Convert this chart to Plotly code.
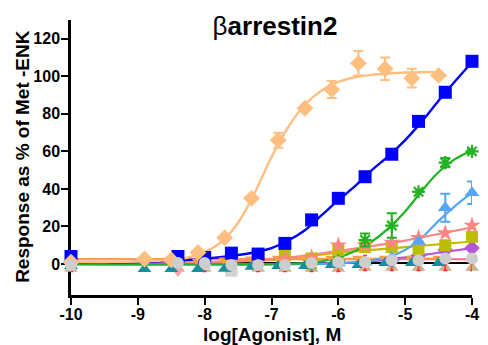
import plotly.graph_objects as go

# ---------------- data ----------------
x_main = [-10, -8.4, -8.0, -7.6, -7.2, -6.8, -6.4, -6.0, -5.6, -5.2, -4.8, -4.4, -4.0]
x_alt = [-10, -8.9, -8.5, -8.1, -7.7, -7.3, -6.9, -6.5, -6.1, -5.7, -5.3, -4.9, -4.5]

# peach diamonds (full agonist)
peach_y = [1, 2.7, 2.2, 6.2, 14, 35, 66, 83, 93, 107, 104, 99, 100.5]
peach_err = [0, 0, 0, 0, 0, 0, 4, 0, 4.5, 6.5, 6, 5, 0]
peach_fit_x = [-10, -9.5, -9, -8.5, -8.25, -8, -7.75, -7.5, -7.25, -7, -6.75, -6.5, -6.25, -6, -5.75, -5.5, -5.25, -5, -4.75, -4.5]
peach_fit_y = [1, 1.1, 1.3, 2.2, 3.5, 6.3, 11.8, 22, 38, 57, 73, 85, 92.5, 97, 99.5, 100.8, 101.5, 102, 102.2, 102.3]

# blue squares
blue_y = [4, 4, 3.5, 5.8, 5.3, 11, 23.5, 35, 46.5, 58.5, 76, 91.5, 108]
blue_fit_x = [-10, -9.5, -9, -8.5, -8, -7.5, -7.25, -7, -6.75, -6.5, -6.25, -6, -5.75, -5.5, -5.25, -5, -4.75, -4.5, -4.25, -4]
blue_fit_y = [0.8, 0.9, 1.1, 1.7, 2.8, 4.8, 6.3, 8.5, 12.5, 18, 26, 34, 41.5, 50, 57.5, 66, 76, 87, 97.5, 107.5]

# green asterisks
green_x = [-6.4, -6.0, -5.6, -5.2, -4.8, -4.4, -4.0]
green_y = [0, 1.5, 12.8, 20.5, 38.5, 54, 60]
green_err = [0, 0, 3.5, 6.5, 0, 2.5, 1]
green_fit_x = [-10, -7, -6.5, -6.25, -6, -5.75, -5.5, -5.25, -5, -4.75, -4.5, -4.25, -4]
green_fit_y = [0, 0, 0.5, 1.5, 3.5, 7, 12, 19, 28, 39, 49, 56, 60.5]

# light blue triangles
lblue_x = [-6.0, -5.6, -5.2, -4.8, -4.4, -4.0]
lblue_y = [0.5, 1, 3.5, 12, 30, 38]
lblue_err = [0, 0, 0, 0, 7.5, 6]
lblue_fit_x = [-10, -6, -5.75, -5.5, -5.25, -5, -4.75, -4.5, -4.25, -4]
lblue_fit_y = [0, 0.3, 1, 2, 3.8, 7.5, 14, 23, 31, 38]

# salmon stars
salmon_x = [-7.2, -6.8, -6.4, -6.0, -5.6, -5.2, -4.8, -4.4, -4.0]
salmon_y = [1.5, 2.5, 3.5, 10, 10, 11.5, 14, 16.5, 20.5]
salmon_fit_x = [-10, -8, -7, -6.5, -6, -5.5, -5, -4.5, -4]
salmon_fit_y = [0.5, 1, 2.5, 4.5, 7, 9.5, 12.5, 16, 19.5]

# olive squares
olive_x = [-6.8, -6.4, -6.0, -5.6, -5.2, -4.8, -4.4, -4.0]
olive_y = [4.5, 3, 7.5, 9, 9, 8, 10, 14.5]
olive_fit_x = [-10, -7, -6.5, -6, -5.5, -5, -4.5, -4]
olive_fit_y = [0.5, 2, 4, 6, 7.5, 9, 10.5, 12]

# purple diamonds
purple_x = [-5.2, -4.8, -4.4, -4.0]
purple_y = [2, 4.5, 7.5, 8.5]
purple_fit_x = [-10, -6, -5.5, -5, -4.5, -4]
purple_fit_y = [0, 0.5, 1.5, 3.5, 6, 8.5]

# near-zero responders
gray_y = [-0.5, 0.5, 0.5, -0.5, -0.5, -0.5, 0.5, 1, 1, 2, 2, 3, 3]
teal_y = [-1, -2.7, -2.7, -2.7, -2.5, -1.5, -1, -1, -0.5, -0.5, 0.5, 0.5, 0.5]
tan_y = [-2.5, -2.5, -2.5, -3, -2.5, -2.5, -2.5, -2.5, -2, -2, -2, -2, -2]
otri_y = [1, 1, 1, 1.5, 2, 2.5, 3, 3, 3, 3, 3, 3, 3]
red_y = [0, 0, 0, 0, 0, 0, 0, 0, 0.5, 0.5, 0.5, 0.5, 0.5]
red_err = [4, 4, 4, 4, 4, 4, 4, 4, 4, 4, 4, 4, 4]
lgsq_x = [-10, -8.0, -7.6]
lgsq_y = [0, 0, -3.5]
lgsq_err = [0, 2, 2.5]
pinktri_x = [-8.4]
pinktri_y = [-4]

flat_x = [-10, -4]
black_fit_y = [0.5, 0.5]
pink_fit_y = [2.5, 2.5]
otri_fit_x = [-10, -4.5]
otri_fit_y = [2.5, 3]

x_ticks = [-10, -9, -8, -7, -6, -5, -4]
y_ticks = [0, 20, 40, 60, 80, 100, 120]

# ---------------- colours ----------------
C_PEACH = "#FFBF80"
C_BLUE = "#0000FF"
C_GREEN = "#1FB31F"
C_LBLUE = "#55A6F5"
C_SALMON = "#FF8585"
C_OLIVE = "#BEBE00"
C_PURPLE = "#B357D9"
C_GRAY = "#CDCDCD"
C_TEAL = "#178E9B"
C_TAN = "#C8B48A"
C_OTRI = "#FF9D45"
C_RED = "#FF2A2A"
C_PINK = "#FF6A88"
C_LGSQ = "#D4D4D4"
C_PINKTRI = "#F7A3B0"

fig = go.Figure()

def fit(x, y, color, width=2.2):
    fig.add_trace(go.Scatter(x=x, y=y, mode="lines", line=dict(color=color, width=width, shape="spline"),
                             hoverinfo="skip", showlegend=False, cliponaxis=False))

def pts(x, y, color, symbol, size, err=None, lw=0, errcolor=None, ethick=2, ewidth=5):
    kw = {}
    if err is not None:
        kw["error_y"] = dict(type="data", array=err, visible=True, color=errcolor or color,
                             thickness=ethick, width=ewidth)
    fig.add_trace(go.Scatter(x=x, y=y, mode="markers",
                             marker=dict(color=color, symbol=symbol, size=size,
                                         line=dict(color=color, width=lw)),
                             showlegend=False, cliponaxis=False, **kw))

# fitted curves
fit(flat_x, black_fit_y, "#000000", 2)
fit(flat_x, pink_fit_y, C_PINK, 2)
fit(otri_fit_x, otri_fit_y, C_OTRI, 2)
fit(olive_fit_x, olive_fit_y, C_OLIVE)
fit(purple_fit_x, purple_fit_y, C_PURPLE)
fit(salmon_fit_x, salmon_fit_y, C_SALMON)
fit(lblue_fit_x, lblue_fit_y, C_LBLUE)
fit(green_fit_x, green_fit_y, C_GREEN)
fit(blue_fit_x, blue_fit_y, C_BLUE, 2.4)
fit(peach_fit_x, peach_fit_y, C_PEACH, 2.4)

# markers
pts(x_main, tan_y, C_TAN, "triangle-up", 12)
pts(x_main, red_y, C_RED, "circle", 4, err=red_err, ethick=1.5, ewidth=2)
pts(pinktri_x, pinktri_y, C_PINKTRI, "triangle-down", 11)
pts(lgsq_x, lgsq_y, C_LGSQ, "square", 12, err=lgsq_err)
pts(x_alt, otri_y, C_OTRI, "triangle-down", 11)
pts(x_alt, teal_y, C_TEAL, "triangle-up", 12)
pts(purple_x, purple_y, C_PURPLE, "diamond", 12)
pts(olive_x, olive_y, C_OLIVE, "square", 12)
pts(salmon_x, salmon_y, C_SALMON, "star", 13)
pts(lblue_x, lblue_y, C_LBLUE, "triangle-up", 13, err=lblue_err)
pts(green_x, green_y, C_GREEN, "asterisk-open", 11, err=green_err, lw=2.2)
pts(x_main, blue_y, C_BLUE, "square", 13)
pts(x_alt, peach_y, C_PEACH, "diamond", 13, err=peach_err)
pts(x_main, gray_y, C_GRAY, "circle", 12)

FONT = "Liberation Sans, Arial, sans-serif"

# the page body adds an 8 px offset, so the figure is 8 px smaller than the window
W, H = 480, 337
fig.update_layout(
    width=W, height=H,
    margin=dict(l=63, r=9, t=12, b=50),
    paper_bgcolor="white", plot_bgcolor="white",
    font=dict(family=FONT, color="black"),
    title=dict(text="<span style='font-weight:normal'>β</span><b>arrestin2</b>",
               x=267 / W, xanchor="center", y=1 - 18 / H, yanchor="middle",
               font=dict(family=FONT, size=26, color="black")),
    showlegend=False,
)
fig.update_xaxes(range=[-10, -4], tickvals=x_ticks, ticktext=[str(v) for v in x_ticks],
                 showline=True, linecolor="black", linewidth=2.5, ticks="outside", ticklen=7,
                 tickwidth=2, tickcolor="black", showgrid=False, zeroline=False,
                 tickfont=dict(family=FONT, size=16, weight="bold", color="black"),
                 ticklabelstandoff=-4, layer="below traces")
fig.update_yaxes(range=[-16.5, 130], tickvals=y_ticks, ticktext=[str(v) for v in y_ticks],
                 showline=True, linecolor="black", linewidth=2.5, ticks="outside", ticklen=7,
                 tickwidth=2, tickcolor="black", showgrid=False, zeroline=False,
                 tickfont=dict(family=FONT, size=16, weight="bold", color="black"),
                 ticklabelstandoff=-2, layer="below traces")

fig.add_annotation(text="<b>log[Agonist], M</b>", xref="paper", yref="paper",
                   x=0.5, y=-(334 - 295) / 275, xanchor="center", yanchor="middle",
                   showarrow=False, font=dict(family=FONT, size=19, color="black"))
fig.add_annotation(text="<b>Response as % of Met -ENK</b>", xref="paper", yref="paper",
                   x=-(71 - 21) / 408, y=(295 - 156) / 275, xanchor="center", yanchor="middle",
                   textangle=-90, showarrow=False, font=dict(family=FONT, size=19, color="black"))

fig.write_html("out.html")
